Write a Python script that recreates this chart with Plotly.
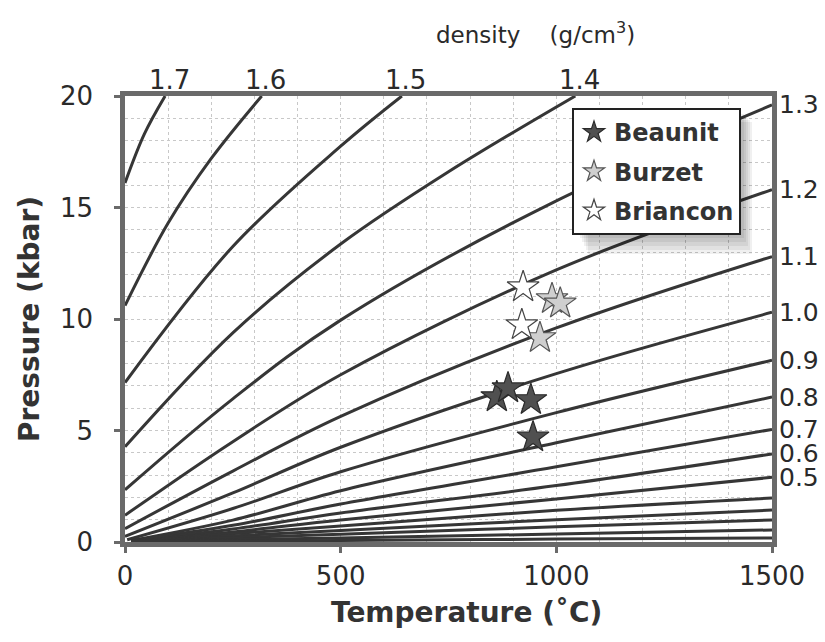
import plotly.graph_objects as go

# ---- isochore data (temperature in C, pressure in kbar) ----
T_17 = [0, 45, 93]
P_17 = [16.1, 18.3, 20.0]
T_16 = [0, 100, 200, 317]
P_16 = [10.6, 14.3, 17.2, 20.0]
T_15 = [0, 250, 500, 642]
P_15 = [7.15, 13.25, 17.75, 20.0]
T_14 = [0, 250, 500, 750, 1044]
P_14 = [4.27, 9.38, 13.36, 16.6, 20.0]
T_13 = [0, 250, 500, 1000, 1500]
P_13 = [2.34, 6.42, 9.95, 15.3, 19.6]
T_12 = [0, 250, 500, 1000, 1500]
P_12 = [1.2, 4.5, 7.5, 12.2, 15.8]
T_11 = [0, 250, 500, 1000, 1500]
P_11 = [0.6, 3.18, 5.63, 9.6, 12.8]
T_10 = [0, 250, 500, 1000, 1500]
P_10 = [0.25, 2.2, 4.25, 7.55, 10.3]
T_09 = [5, 250, 500, 1000, 1500]
P_09 = [0.1, 1.5, 3.15, 5.8, 8.15]
T_08 = [15, 250, 500, 1000, 1500]
P_08 = [0.07, 0.98, 2.3, 4.45, 6.5]
T_07 = [15, 250, 500, 1000, 1500]
P_07 = [0.06, 0.75, 1.7, 3.37, 5.05]
T_06 = [15, 250, 500, 1000, 1500]
P_06 = [0.06, 0.58, 1.3, 2.53, 3.95]
T_05 = [15, 250, 500, 1000, 1500]
P_05 = [0.05, 0.45, 0.99, 1.93, 2.9]
T_04 = [15, 500, 1000, 1500]
P_04 = [0.05, 0.72, 1.42, 1.97]
T_03 = [15, 500, 1000, 1500]
P_03 = [0.04, 0.52, 1.0, 1.43]
T_02 = [15, 500, 1000, 1500]
P_02 = [0.04, 0.35, 0.68, 0.99]
T_01 = [15, 500, 1000, 1500]
P_01 = [0.03, 0.18, 0.36, 0.54]
T_005 = [15, 500, 1000, 1500]
P_005 = [0.02, 0.07, 0.13, 0.18]

top_labels = ["1.7", "1.6", "1.5", "1.4"]
right_labels = ["1.3", "1.2", "1.1", "1.0", "0.9", "0.8", "0.7", "0.6", "0.5"]

# ---- sample points ----
beaunit_T = [862, 888, 941, 946]
beaunit_P = [6.5, 6.9, 6.37, 4.7]
burzet_T = [990, 1009, 962]
burzet_P = [10.9, 10.7, 9.15]
briancon_T = [923, 920]
briancon_P = [11.43, 9.73]

x_ticks = [0, 500, 1000, 1500]
y_ticks = [0, 5, 10, 15, 20]

top_lines = [(T_17, P_17), (T_16, P_16), (T_15, P_15), (T_14, P_14)]
right_lines = [(T_13, P_13), (T_12, P_12), (T_11, P_11), (T_10, P_10), (T_09, P_09),
               (T_08, P_08), (T_07, P_07), (T_06, P_06), (T_05, P_05)]
low_lines = [(T_04, P_04), (T_03, P_03), (T_02, P_02), (T_01, P_01), (T_005, P_005)]

fig = go.Figure()
for T, P in top_lines + right_lines + low_lines:
    fig.add_trace(go.Scatter(x=T, y=P, mode="lines",
                             line=dict(color="#363636", width=3, shape="spline", smoothing=1.0),
                             showlegend=False, hoverinfo="skip"))

fig.add_trace(go.Scatter(x=beaunit_T, y=beaunit_P, mode="markers", name="Beaunit", legendgroup="a",
                         marker=dict(symbol="star", size=24, color="#505050", line=dict(color="#2a2a2a", width=1.2))))
fig.add_trace(go.Scatter(x=burzet_T, y=burzet_P, mode="markers", name="Burzet", legendgroup="b",
                         marker=dict(symbol="star", size=24, color="#cfcfcf", line=dict(color="#555555", width=1.2))))
fig.add_trace(go.Scatter(x=briancon_T, y=briancon_P, mode="markers", name="Briancon", legendgroup="c",
                         marker=dict(symbol="star", size=24, color="white", line=dict(color="#444444", width=1.2))))

# plot-area pixel geometry helpers (figure 825x642, margins l=125 r=53 t=96 b=100)
L, R, TOP, BOT = 125, 772, 96, 542


def px_x(p):
    return (p - L) / (R - L)


def px_y(p):
    return (BOT - p) / (BOT - TOP)


tick_font = dict(family="DejaVu Sans", size=26, color="#2a2a2a")
right_font = dict(family="DejaVu Sans", size=25, color="#2a2a2a")
ann = []
for (T, P), lab in zip(top_lines, top_labels):
    ann.append(dict(x=T[-1], y=20, xref="x", yref="y", text=lab, showarrow=False, xanchor="center",
                    yanchor="bottom", xshift=4, yshift=-1, font=tick_font))
for (T, P), lab in zip(right_lines, right_labels):
    ann.append(dict(x=1, y=P[-1], xref="paper", yref="y", text=lab, showarrow=False, xanchor="left",
                    yanchor="middle", xshift=5, font=right_font))
ann.append(dict(x=px_x(535), y=px_y(33), xref="paper", yref="paper", text="density    (g/cm<sup>3</sup>)",
                showarrow=False, xanchor="center", yanchor="middle",
                font=dict(family="DejaVu Sans", size=23, color="#2a2a2a")))
ann.append(dict(x=px_x(466), y=px_y(612), xref="paper", yref="paper", text="Temperature (˚C)",
                showarrow=False, xanchor="center", yanchor="middle",
                font=dict(family="DejaVu Sans", size=28, weight="bold", color="#333333")))

# legend drop shadow (soft grey)
shapes = []
for i in range(5):
    d = 2 * i
    shapes.append(dict(type="rect", xref="paper", yref="paper",
                       x0=px_x(580 + d), x1=px_x(744 + d), y0=px_y(238 + 2 * d), y1=px_y(114 + d),
                       fillcolor="rgba(0,0,0,0.06)", line=dict(width=0), layer="above"))

axis_common = dict(showline=True, linecolor="#6a6a6a", linewidth=4.5, mirror=True, ticks="outside",
                   ticklen=6, tickwidth=3, tickcolor="#6a6a6a", showgrid=True, gridcolor="#c8c8c8",
                   griddash="dot", gridwidth=1, zeroline=False, tickfont=tick_font)

fig.update_layout(
    width=825, height=642,
    margin=dict(l=L, r=825 - R, t=TOP, b=642 - BOT),
    plot_bgcolor="white", paper_bgcolor="white",
    xaxis=dict(range=[0, 1500], tickvals=x_ticks, ticklabelstandoff=1,
               minor=dict(dtick=100, showgrid=True, gridcolor="#c8c8c8", griddash="dot", ticks=""),
               **axis_common),
    yaxis=dict(range=[0, 20], tickvals=y_ticks, ticklabelstandoff=16,
               minor=dict(dtick=1, showgrid=True, gridcolor="#c8c8c8", griddash="dot", ticks=""),
               title=dict(text="Pressure (kbar)", standoff=14,
                          font=dict(family="DejaVu Sans", size=28, weight="bold", color="#333333")),
               **axis_common),
    legend=dict(x=px_x(572), y=px_y(108), xanchor="left", yanchor="top", bgcolor="white",
                bordercolor="#222222", borderwidth=2, tracegroupgap=5,
                font=dict(family="DejaVu Sans", size=24, weight="bold", color="#333333")),
    annotations=ann,
    shapes=shapes,
)

fig.write_html("out.html")
